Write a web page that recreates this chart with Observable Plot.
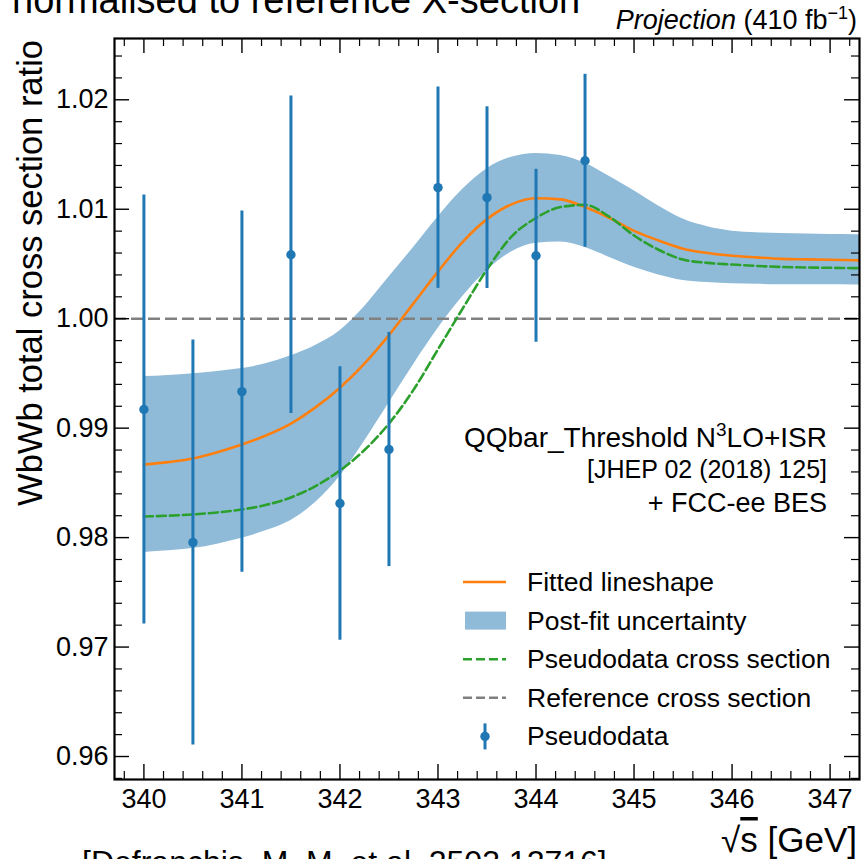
<!DOCTYPE html>
<html><head><meta charset="utf-8">
<script src="https://cdn.jsdelivr.net/npm/d3@7"></script>
<script src="https://cdn.jsdelivr.net/npm/@observablehq/plot@0.6"></script>
<style>
html,body{margin:0;padding:0;background:#fff;overflow:hidden;}
#chart{position:relative;width:863px;height:859px;}
</style></head><body><div id="chart"></div>
<script>
const FONT = "'Liberation Sans', Arial, Helvetica, sans-serif";

// ---- pseudodata points ----
const pseudoX   = [340, 340.5, 341, 341.5, 342, 342.5, 343, 343.5, 344, 344.5];
const pseudoY   = [0.9917, 0.97956, 0.99334, 1.00584, 0.98312, 0.98805, 1.01197, 1.01106, 1.00575, 1.01443];
const pseudoErr = [0.0196, 0.0185, 0.0165, 0.0145, 0.0125, 0.0107, 0.0092, 0.0083, 0.0079, 0.0079];

// ---- curves ----
const curveX = [340, 340.25, 340.5, 340.75, 341, 341.25, 341.5, 341.75, 342, 342.25, 342.5, 342.75,
  343, 343.25, 343.5, 343.75, 344, 344.25, 344.5, 344.75, 345, 345.25, 345.5, 345.75, 346, 346.25,
  346.5, 346.75, 347, 347.25, 347.5];
const fitY = [0.98668, 0.98690, 0.98723, 0.98780, 0.98850, 0.98935, 0.99042, 0.99190, 0.99370, 0.99590,
  0.99850, 1.00140, 1.00430, 1.00700, 1.00910, 1.01045, 1.01100, 1.01090, 1.01020, 1.00920, 1.00803,
  1.00715, 1.00640, 1.00600, 1.00575, 1.00560, 1.00547, 1.00542, 1.00538, 1.00534, 1.00530];
const pseudoXsecY = [0.98193, 0.98200, 0.98212, 0.98230, 0.98257, 0.98300, 0.98367, 0.98470, 0.98613, 0.98800,
  0.99042, 0.99350, 0.99720, 1.00090, 1.00450, 1.00750, 1.00920, 1.01020, 1.01040, 1.00930, 1.00760,
  1.00630, 1.00540, 1.00510, 1.00495, 1.00482, 1.00473, 1.00468, 1.00465, 1.00462, 1.00460];
const bandUpper = [0.99471, 0.99482, 0.99498, 0.99518, 0.99544, 0.99590, 0.99662, 0.99755, 0.99890, 1.00110,
  1.00380, 1.00650, 1.00930, 1.01180, 1.01370, 1.01475, 1.01510, 1.01490, 1.01420, 1.01300, 1.01170,
  1.01030, 1.00910, 1.00840, 1.00800, 1.00785, 1.00778, 1.00773, 1.00770, 1.00768, 1.00766];
const bandLower = [0.97865, 0.97880, 0.97900, 0.97940, 0.97993, 0.98065, 0.98157, 0.98320, 0.98560, 0.98880,
  0.99230, 0.99580, 0.99910, 1.00200, 1.00440, 1.00610, 1.00690, 1.00700, 1.00650, 1.00560, 1.00470,
  1.00400, 1.00350, 1.00330, 1.00320, 1.00315, 1.00310, 1.00310, 1.00310, 1.00308, 1.00306];

const referenceY = [1.0];

// ---- ticks ----
const xMajorTicks = [340, 341, 342, 343, 344, 345, 346, 347];
const yMajorTicks = [0.96, 0.97, 0.98, 0.99, 1.00, 1.01, 1.02];
const xDomain = [339.7, 347.3];
const yDomain = [0.9579, 1.0256];

const xMinorTicks = d3.range(-2, 40).map(i => +(339.6 + i * 0.2).toFixed(1))
  .filter(v => v > xDomain[0] && v < xDomain[1] && !xMajorTicks.includes(v));
const yMinorTicks = d3.range(0, 40).map(i => +(0.956 + i * 0.002).toFixed(3))
  .filter(v => v > yDomain[0] && v < yDomain[1] && !yMajorTicks.some(m => Math.abs(m - v) < 1e-9));

// ---- tables ----
const points = pseudoX.map((x, i) => ({x, y: pseudoY[i], lo: pseudoY[i] - pseudoErr[i], hi: pseudoY[i] + pseudoErr[i]}));
const curves = curveX.map((x, i) => ({x, fit: fitY[i], pd: pseudoXsecY[i], lo: bandLower[i], hi: bandUpper[i]}));

const W = 863, H = 859, mL = 114, mR = 4, mT = 38, mB = 80;
const frameH = H - mT - mB, frameW = W - mL - mR;
const BLUE = "#1f77b4", BAND = "#8fbbd9", ORANGE = "#ff7f0e", GREEN = "#2ca02c", GRAY = "#808080";

const chart = Plot.plot({
  width: W, height: H,
  marginLeft: mL, marginRight: mR, marginTop: mT, marginBottom: mB,
  x: {domain: xDomain},
  y: {domain: yDomain},
  style: {fontFamily: FONT, fontSize: "27px", color: "black", background: "white", overflow: "hidden"},
  marks: [
    Plot.areaY(curves, {x: "x", y1: "lo", y2: "hi", fill: BAND, curve: "monotone-x", clip: true}),
    Plot.ruleY(referenceY, {y: d => d, stroke: GRAY, strokeWidth: 2.5, strokeDasharray: "12,5"}),
    Plot.line(curves, {x: "x", y: "fit", stroke: ORANGE, strokeWidth: 2.6, curve: "monotone-x", clip: true}),
    Plot.line(curves, {x: "x", y: "pd", stroke: GREEN, strokeWidth: 2.6, strokeDasharray: "9,4", curve: "monotone-x", clip: true}),
    Plot.ruleX(points, {x: "x", y1: "lo", y2: "hi", stroke: BLUE, strokeWidth: 3}),
    Plot.dot(points, {x: "x", y: "y", r: 4.7, fill: BLUE, stroke: null}),
    // inward ticks on all four sides
    Plot.tickX(xMajorTicks, {x: d => d, insetTop: frameH - 15, stroke: "black", strokeWidth: 1.4}),
    Plot.tickX(xMajorTicks, {x: d => d, insetBottom: frameH - 15, stroke: "black", strokeWidth: 1.4}),
    Plot.tickX(xMinorTicks, {x: d => d, insetTop: frameH - 8, stroke: "black", strokeWidth: 1.2}),
    Plot.tickX(xMinorTicks, {x: d => d, insetBottom: frameH - 8, stroke: "black", strokeWidth: 1.2}),
    Plot.tickY(yMajorTicks, {y: d => d, insetRight: frameW - 15, stroke: "black", strokeWidth: 1.4}),
    Plot.tickY(yMajorTicks, {y: d => d, insetLeft: frameW - 15, stroke: "black", strokeWidth: 1.4}),
    Plot.tickY(yMinorTicks, {y: d => d, insetRight: frameW - 8, stroke: "black", strokeWidth: 1.2}),
    Plot.tickY(yMinorTicks, {y: d => d, insetLeft: frameW - 8, stroke: "black", strokeWidth: 1.2}),
    Plot.axisX({ticks: xMajorTicks, tickSize: 0, tickPadding: 9, fontSize: 27, label: null, tickFormat: d => String(d)}),
    Plot.axisY({ticks: yMajorTicks, tickSize: 0, tickPadding: 6, fontSize: 27, label: null, tickFormat: d3.format(".2f")}),
    Plot.frame({stroke: "black", strokeWidth: 2.2})
  ]
});
document.getElementById("chart").appendChild(chart);

// ---- annotations, labels and legend ----
const svg = d3.select(chart);
const g = svg.append("g").attr("font-family", FONT).attr("fill", "black").attr("text-anchor", "start");

g.append("text").attr("x", 12).attr("y", 13).attr("font-size", 38).attr("text-anchor", "start")
  .text("normalised to reference X-section");

const proj = g.append("text").attr("x", 857).attr("y", 29).attr("font-size", 27).attr("text-anchor", "end");
proj.append("tspan").attr("font-style", "italic").text("Projection");
proj.append("tspan").text(" (410 fb");
proj.append("tspan").attr("font-size", 18).attr("dy", -10).text("\u22121");
proj.append("tspan").attr("dy", 10).text(")");

g.append("text").attr("transform", "translate(42,40) rotate(-90)").attr("text-anchor", "end")
  .attr("font-size", 34.5).text("WbWb total cross section ratio");

const xl = g.append("text").attr("x", 857).attr("y", 852).attr("font-size", 35).attr("text-anchor", "end");
xl.append("tspan").text("\u221A");
xl.append("tspan").style("text-decoration", "overline").text("s");
xl.append("tspan").text(" [GeV]");

g.append("text").attr("x", 82).attr("y", 873).attr("font-size", 32).attr("text-anchor", "start")
  .text("[Defranchis, M. M. et al. 2503.12716]");

const qq = g.append("text").attr("x", 827).attr("y", 447).attr("font-size", 28).attr("text-anchor", "end");
qq.append("tspan").text("QQbar_Threshold N");
qq.append("tspan").attr("font-size", 19).attr("dy", -11).text("3");
qq.append("tspan").attr("dy", 11).text("LO+ISR");
g.append("text").attr("x", 827).attr("y", 478).attr("font-size", 25).attr("text-anchor", "end").text("[JHEP 02 (2018) 125]");
g.append("text").attr("x", 827).attr("y", 512).attr("font-size", 27).attr("text-anchor", "end").text("+ FCC-ee BES");

const legendItems = ["Fitted lineshape", "Post-fit uncertainty", "Pseudodata cross section", "Reference cross section", "Pseudodata"];
const lg = g.append("g");
const rowY = i => 582 + i * 38.6;
legendItems.forEach((label, i) => {
  lg.append("text").attr("x", 527).attr("y", rowY(i) + 9).attr("font-size", 26.5).attr("text-anchor", "start").text(label);
});
lg.append("line").attr("x1", 463).attr("x2", 506).attr("y1", rowY(0)).attr("y2", rowY(0)).attr("stroke", ORANGE).attr("stroke-width", 2.6);
lg.append("rect").attr("x", 465).attr("y", rowY(1) - 9).attr("width", 41).attr("height", 18).attr("fill", BAND);
lg.append("line").attr("x1", 463).attr("x2", 506).attr("y1", rowY(2)).attr("y2", rowY(2)).attr("stroke", GREEN).attr("stroke-width", 2.6).attr("stroke-dasharray", "9,4");
lg.append("line").attr("x1", 463).attr("x2", 506).attr("y1", rowY(3)).attr("y2", rowY(3)).attr("stroke", GRAY).attr("stroke-width", 2.5).attr("stroke-dasharray", "9,4");
lg.append("line").attr("x1", 485).attr("x2", 485).attr("y1", rowY(4) - 13).attr("y2", rowY(4) + 13).attr("stroke", BLUE).attr("stroke-width", 3);
lg.append("circle").attr("cx", 485).attr("cy", rowY(4)).attr("r", 4.7).attr("fill", BLUE);
</script></body></html>
